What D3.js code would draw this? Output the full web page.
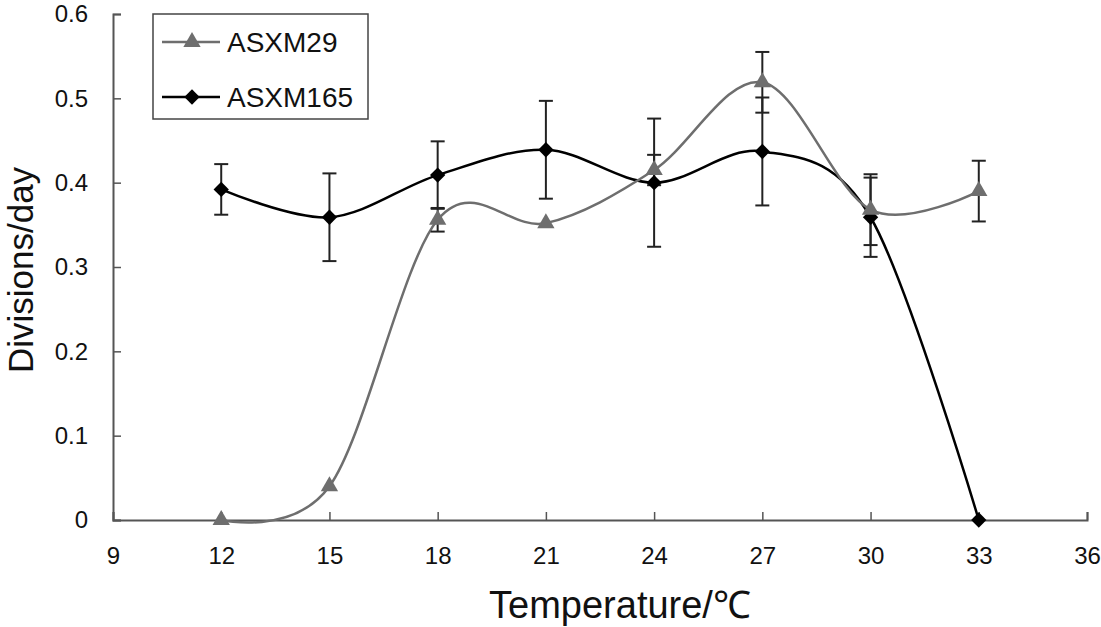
<!DOCTYPE html>
<html>
<head>
<meta charset="utf-8">
<script src="https://cdn.jsdelivr.net/npm/d3@7"></script>
<style>
  body { margin: 0; background: #fff; }
  text { font-family: Arial, "Liberation Sans", sans-serif; }
</style>
</head>
<body>
<div id="chart"></div>
<script>
const temps = [12, 15, 18, 21, 24, 27, 30, 33];
const asxm29 = [0, 0.04, 0.356, 0.352, 0.415, 0.519, 0.368, 0.39];
const err29 = [0, 0, 0.014, 0, 0.018, 0.036, 0.042, 0.036];
const asxm165 = [0.392, 0.359, 0.409, 0.439, 0.40, 0.437, 0.359, 0];
const err165 = [0.03, 0.052, 0.04, 0.058, 0.076, 0.064, 0.047, 0];
const xTicks = [9, 12, 15, 18, 21, 24, 27, 30, 33, 36];
const yTicks = [0, 0.1, 0.2, 0.3, 0.4, 0.5, 0.6];

const W = 1101, H = 627;
const margin = { top: 14, right: 14, bottom: 107, left: 113 };
const width = W - margin.left - margin.right;
const height = H - margin.top - margin.bottom;

const svg = d3.select("#chart")
    .append("svg")
    .attr("width", W)
    .attr("height", H)
    .append("g")
    .attr("transform", `translate(${margin.left}, ${margin.top})`);

const x = d3.scaleLinear().domain([9, 36]).range([0, width]);
const y = d3.scaleLinear().domain([0, 0.6]).range([height, 0]);

const axisColor = "#555";

// axes (ticks point inward, like the excel original)
const xAxis = svg.append("g")
    .attr("transform", `translate(0, ${height})`)
    .call(d3.axisBottom(x).tickValues(xTicks).tickSize(-8).tickPadding(20).tickFormat(d3.format("d")));
xAxis.select(".domain").attr("stroke", axisColor).attr("stroke-width", 2);
xAxis.selectAll(".tick line").attr("stroke", axisColor).attr("stroke-width", 1.5);
xAxis.selectAll("text").attr("font-size", 24).attr("fill", "#111").attr("dy", "1.0em");

const yAxis = svg.append("g")
    .call(d3.axisLeft(y).tickValues(yTicks).tickSize(-8).tickPadding(25).tickFormat(d => d === 0 ? "0" : d3.format(".1f")(d)));
yAxis.select(".domain").attr("stroke", axisColor).attr("stroke-width", 2);
yAxis.selectAll(".tick line").attr("stroke", axisColor).attr("stroke-width", 1.5);
yAxis.selectAll("text").attr("font-size", 24).attr("fill", "#111");

// axis titles
svg.append("text")
    .attr("x", 620 - margin.left)
    .attr("y", 618 - margin.top)
    .attr("text-anchor", "middle")
    .attr("font-size", 38)
    .attr("fill", "#111")
    .text("Temperature/℃");

svg.append("text")
    .attr("transform", "rotate(-90)")
    .attr("x", -(270 - margin.top))
    .attr("y", 33 - margin.left)
    .attr("text-anchor", "middle")
    .attr("font-size", 35)
    .attr("fill", "#111")
    .text("Divisions/day");

const series = [
    { name: "ASXM165", values: asxm165, errs: err165, color: "#000", marker: d3.symbolDiamond2 },
    { name: "ASXM29", values: asxm29, errs: err29, color: "#6e6e6e", marker: d3.symbolTriangle }
];

const line = d3.line()
    .x(d => x(d.t))
    .y(d => y(d.v))
    .curve(d3.curveCardinal.tension(0));

series.forEach(s => {
    const pts = temps.map((t, i) => ({ t: t, v: s.values[i], e: s.errs[i] }));
    s.pts = pts;
    svg.append("path")
        .datum(pts)
        .attr("fill", "none")
        .attr("stroke", s.color)
        .attr("stroke-width", 2.5)
        .attr("d", line);
});

// error bars
series.forEach(s => {
    const eb = svg.append("g").selectAll("g")
        .data(s.pts.filter(d => d.e > 0))
        .enter()
        .append("g")
        .attr("stroke", "#222")
        .attr("stroke-width", 2);
    eb.append("line")
        .attr("x1", d => x(d.t)).attr("x2", d => x(d.t))
        .attr("y1", d => y(d.v + d.e)).attr("y2", d => y(d.v - d.e));
    eb.append("line")
        .attr("x1", d => x(d.t) - 7).attr("x2", d => x(d.t) + 7)
        .attr("y1", d => y(d.v + d.e)).attr("y2", d => y(d.v + d.e));
    eb.append("line")
        .attr("x1", d => x(d.t) - 7).attr("x2", d => x(d.t) + 7)
        .attr("y1", d => y(d.v - d.e)).attr("y2", d => y(d.v - d.e));
});

// markers
series.forEach(s => {
    const sym = d3.symbol().type(s.marker).size(s.marker === d3.symbolTriangle ? 130 : 150);
    svg.append("g").selectAll("path")
        .data(s.pts)
        .enter()
        .append("path")
        .attr("transform", d => `translate(${x(d.t)}, ${y(d.v)})`)
        .attr("d", sym)
        .attr("fill", s.color);
});

// legend
const legend = svg.append("g")
    .attr("transform", `translate(${153 - margin.left}, ${14 - margin.top})`);
legend.append("rect")
    .attr("width", 215)
    .attr("height", 105)
    .attr("fill", "#fff")
    .attr("stroke", "#444")
    .attr("stroke-width", 1.5);

const legendItems = [series[1], series[0]];
legendItems.forEach((s, i) => {
    const cy = 28 + i * 55;
    legend.append("line")
        .attr("x1", 9).attr("x2", 67)
        .attr("y1", cy).attr("y2", cy)
        .attr("stroke", s.color)
        .attr("stroke-width", 2.5);
    legend.append("path")
        .attr("transform", `translate(39, ${cy})`)
        .attr("d", d3.symbol().type(s.marker).size(s.marker === d3.symbolTriangle ? 130 : 150))
        .attr("fill", s.color);
    legend.append("text")
        .attr("x", 74)
        .attr("y", cy)
        .attr("dy", "0.36em")
        .attr("font-size", 28)
        .attr("fill", "#111")
        .text(s.name);
});
</script>
</body>
</html>
